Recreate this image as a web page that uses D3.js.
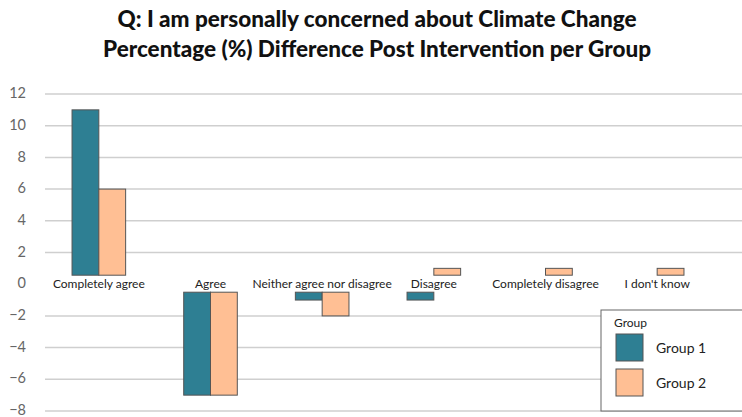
<!DOCTYPE html>
<html>
<head>
<meta charset="utf-8">
<script src="https://cdn.jsdelivr.net/npm/d3@7"></script>
<style>
  html, body { margin: 0; padding: 0; background: #fff; }
  svg { display: block; }
</style>
</head>
<body>
<svg id="chart" width="742" height="417"></svg>
<script>
// Response categories and per-group change (percentage points)
const categories = ["Completely agree", "Agree", "Neither agree nor disagree", "Disagree", "Completely disagree", "I don't know"];
const groups = ["Group 1", "Group 2"];
const group1Values = [11, -7, -1, -1, 0, 0];
const group2Values = [6, -7, -2, 1, 1, 1];
const yTicks = [12, 10, 8, 6, 4, 2, 0, -2, -4, -6, -8];
const titleLines = ["Q: I am personally concerned about Climate Change", "Percentage (%) Difference Post Intervention per Group"];

const colors = { "Group 1": "#2e7f93", "Group 2": "#ffbf94" };

const svg = d3.select("#chart");
const W = 742, H = 417;

const rows = [];
categories.forEach((c, i) => {
  rows.push({ cat: c, group: "Group 1", value: group1Values[i] });
  rows.push({ cat: c, group: "Group 2", value: group2Values[i] });
});

const y = d3.scaleLinear().domain([-8, 12]).range([411, 94]);
const x = d3.scaleBand().domain(categories).range([43, 713]).paddingInner(0.52).paddingOuter(0.26);
const xg = d3.scaleBand().domain(groups).range([0, x.bandwidth()]);

// Title
svg.append("g").selectAll("text").data(titleLines).join("text")
  .attr("x", 377).attr("y", (d, i) => 27 + i * 30)
  .attr("text-anchor", "middle")
  .attr("font-family", "Lato, 'Open Sans', sans-serif")
  .attr("font-weight", "900")
  .attr("font-size", 22.5)
  .attr("fill", "#111")
  .text(d => d);

// Gridlines (the zero row is left free for the category labels)
svg.append("g").selectAll("line").data(yTicks.filter(t => t !== 0)).join("line")
  .attr("x1", 45).attr("x2", W)
  .attr("y1", d => y(d)).attr("y2", d => y(d))
  .attr("stroke", "#cfcfcf").attr("stroke-width", 1.5);

// Y axis labels
const yAxis = d3.axisLeft(y).tickValues(yTicks).tickSize(0).tickPadding(0);
const ya = svg.append("g").attr("transform", "translate(26,-1)").call(yAxis);
ya.select(".domain").remove();
ya.selectAll("text")
  .attr("font-family", "Lato, 'Open Sans', sans-serif")
  .attr("font-size", 14.5)
  .attr("fill", "#666");

// Bars: grown away from a band around zero that holds the labels
const zeroY = y(0);
const upBase = zeroY - 9, downBase = zeroY + 8;
svg.append("g").selectAll("rect").data(rows.filter(d => d.value !== 0)).join("rect")
  .attr("x", d => x(d.cat) + xg(d.group))
  .attr("width", xg.bandwidth())
  .attr("y", d => d.value > 0 ? y(d.value) : downBase)
  .attr("height", d => d.value > 0 ? upBase - y(d.value) : y(d.value) - downBase)
  .attr("fill", d => colors[d.group])
  .attr("stroke", "#555")
  .attr("stroke-width", 1);

// Category labels along the zero line
svg.append("g").selectAll("text").data(categories).join("text")
  .attr("x", d => x(d) + x.bandwidth() / 2)
  .attr("y", zeroY + 4)
  .attr("text-anchor", "middle")
  .attr("font-family", "Lato, 'Open Sans', sans-serif")
  .attr("font-size", 12)
  .attr("fill", "#222")
  .text(d => d);

// Legend
const lg = svg.append("g").attr("transform", "translate(601,310)");
lg.append("rect").attr("x", 0).attr("y", 0).attr("width", 150).attr("height", 101)
  .attr("fill", "#fff").attr("stroke", "#666").attr("stroke-width", 1);
lg.append("text").attr("x", 13).attr("y", 17).text("Group")
  .attr("font-family", "Lato, 'Open Sans', sans-serif").attr("font-size", 12).attr("fill", "#222");
const items = lg.selectAll("g.item").data(groups).join("g").attr("class", "item")
  .attr("transform", (d, i) => `translate(15,${24 + i * 35})`);
items.append("rect").attr("width", 27).attr("height", 27)
  .attr("fill", d => colors[d]).attr("stroke", "#555");
items.append("text").attr("x", 40).attr("y", 19).text(d => d)
  .attr("font-family", "Lato, 'Open Sans', sans-serif").attr("font-size", 14).attr("fill", "#222");
</script>
</body>
</html>
